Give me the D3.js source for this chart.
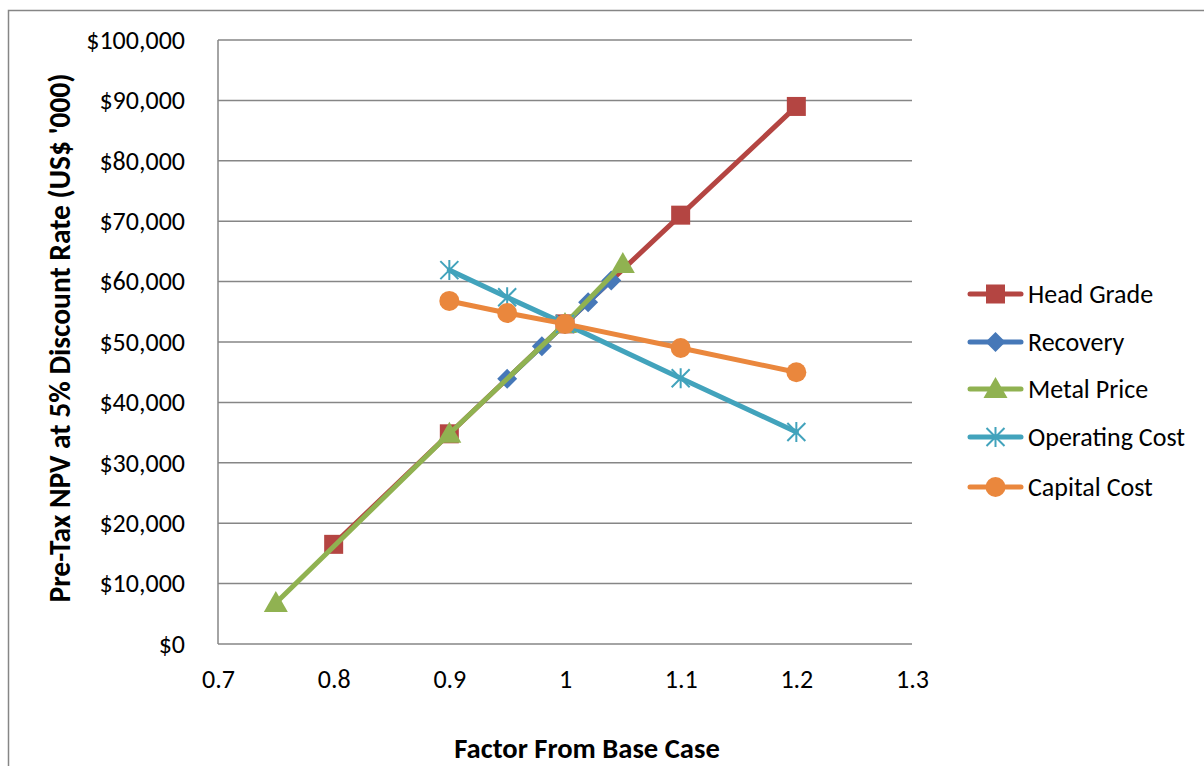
<!DOCTYPE html>
<html><head><meta charset="utf-8">
<script src="https://cdn.jsdelivr.net/npm/d3@7"></script>
<style>body{margin:0;background:#fff;} svg{display:block;}</style>
</head><body>
<svg id="c" width="1204" height="766"></svg>
<script>
const seriesNames = ["Head Grade","Recovery","Metal Price","Operating Cost","Capital Cost"];
const seriesColors = ["#B44542","#4678B8","#90B251","#42A3BC","#EA873D"];
const seriesMarkers = ["square","diamond","triangle","asterisk","circle"];
const headGrade = [[0.8,16500],[0.9,34800],[1.0,53000],[1.1,71000],[1.2,89000]];
const recovery = [[0.95,43900],[0.98,49300],[1.0,53000],[1.02,56600],[1.04,60200]];
const metalPrice = [[0.75,6800],[0.9,34800],[1.0,53000],[1.05,62900]];
const operatingCost = [[0.9,61900],[0.95,57400],[1.0,53000],[1.1,44000],[1.2,35100]];
const capitalCost = [[0.9,56800],[0.95,54800],[1.0,53000],[1.1,49000],[1.2,45000]];
const xTicks = [0.7,0.8,0.9,1.0,1.1,1.2,1.3];
const yTicks = [0,10000,20000,30000,40000,50000,60000,70000,80000,90000,100000];
const xTitle = "Factor From Base Case";
const yTitle = "Pre-Tax NPV at 5% Discount Rate (US$ '000)";

const allSeries = [headGrade, recovery, metalPrice, operatingCost, capitalCost];
const FONT = "Carlito, Calibri, Lato, sans-serif";
const svg = d3.select("#c");
const L=218, R=912, T=40, B=644;
const x = d3.scaleLinear().domain([0.7,1.3]).range([L,R]);
const y = d3.scaleLinear().domain([0,100000]).range([B,T]);

// outer chart border
svg.append("rect").attr("x",8.5).attr("y",10.5).attr("width",1210).attr("height",800)
  .attr("fill","none").attr("stroke","#868686").attr("stroke-width",1.5);

// gridlines
svg.append("g").selectAll("line").data(yTicks).join("line")
  .attr("x1",L).attr("x2",R).attr("y1",d=>y(d)).attr("y2",d=>y(d))
  .attr("stroke","#868686").attr("stroke-width",1.5);
// left axis line
svg.append("line").attr("x1",L).attr("x2",L).attr("y1",T).attr("y2",B)
  .attr("stroke","#868686").attr("stroke-width",1.5);

// y tick labels
const yAxis = d3.axisLeft(y).tickValues(yTicks).tickSize(0).tickPadding(33)
  .tickFormat(d=>"$"+d3.format(",")(d));
const gy = svg.append("g").attr("transform",`translate(${L},0)`).call(yAxis);
gy.select(".domain").remove();
gy.selectAll("text").attr("font-family",FONT).attr("font-size",26).attr("fill","#000");

const xAxis = d3.axisBottom(x).tickValues(xTicks).tickSize(0)
  .tickFormat(d=>d3.format("")(d));
const gx = svg.append("g").attr("transform",`translate(0,${B})`).call(xAxis);
gx.select(".domain").remove();
gx.selectAll("text").attr("font-family",FONT).attr("font-size",26).attr("fill","#000")
  .attr("y",35).attr("dy","0.35em");

// titles
svg.append("text").attr("x",587).attr("y",758).attr("text-anchor","middle")
  .attr("font-family",FONT).attr("font-weight","bold").attr("font-size",28.6).text(xTitle);
svg.append("text").attr("transform",`translate(70,338) rotate(-90)`).attr("text-anchor","middle")
  .attr("font-family",FONT).attr("font-weight","bold").attr("font-size",29.5).text(yTitle);

function marker(g, type, color, cx, cy){
  if(type==="square"){
    g.append("rect").attr("x",cx-9.5).attr("y",cy-9.5).attr("width",19).attr("height",19).attr("fill",color);
  } else if(type==="diamond"){
    g.append("path").attr("d",`M${cx},${cy-10}L${cx+10},${cy}L${cx},${cy+10}L${cx-10},${cy}Z`).attr("fill",color);
  } else if(type==="triangle"){
    g.append("path").attr("d",`M${cx},${cy-12}L${cx+12},${cy+9}L${cx-12},${cy+9}Z`).attr("fill",color);
  } else if(type==="circle"){
    g.append("circle").attr("cx",cx).attr("cy",cy).attr("r",10).attr("fill",color);
  } else if(type==="asterisk"){
    const r=9;
    const p=`M${cx-r},${cy-r}L${cx+r},${cy+r}M${cx-r},${cy+r}L${cx+r},${cy-r}M${cx},${cy-r-1}L${cx},${cy+r+1}`;
    g.append("path").attr("d",p).attr("stroke",color).attr("stroke-width",2).attr("fill","none");
  }
}

const line = d3.line().x(d=>x(d[0])).y(d=>y(d[1]));
allSeries.forEach((data,i)=>{
  const g = svg.append("g");
  g.append("path").attr("d",line(data)).attr("fill","none").attr("stroke",seriesColors[i])
    .attr("stroke-width",5).attr("stroke-linejoin","round").attr("stroke-linecap","round");
  data.forEach(d=>marker(g, seriesMarkers[i], seriesColors[i], x(d[0]), y(d[1])));
});

// legend
const legY = [294,342,389,437,487];
seriesNames.forEach((n,i)=>{
  const g = svg.append("g");
  g.append("line").attr("x1",970).attr("x2",1021).attr("y1",legY[i]).attr("y2",legY[i])
    .attr("stroke",seriesColors[i]).attr("stroke-width",5).attr("stroke-linecap","round");
  marker(g, seriesMarkers[i], seriesColors[i], 995.5, legY[i]);
  g.append("text").attr("x",1028).attr("y",legY[i]).attr("dy","0.35em")
    .attr("font-family",FONT).attr("font-size",26).text(n);
});
</script>
</body></html>
